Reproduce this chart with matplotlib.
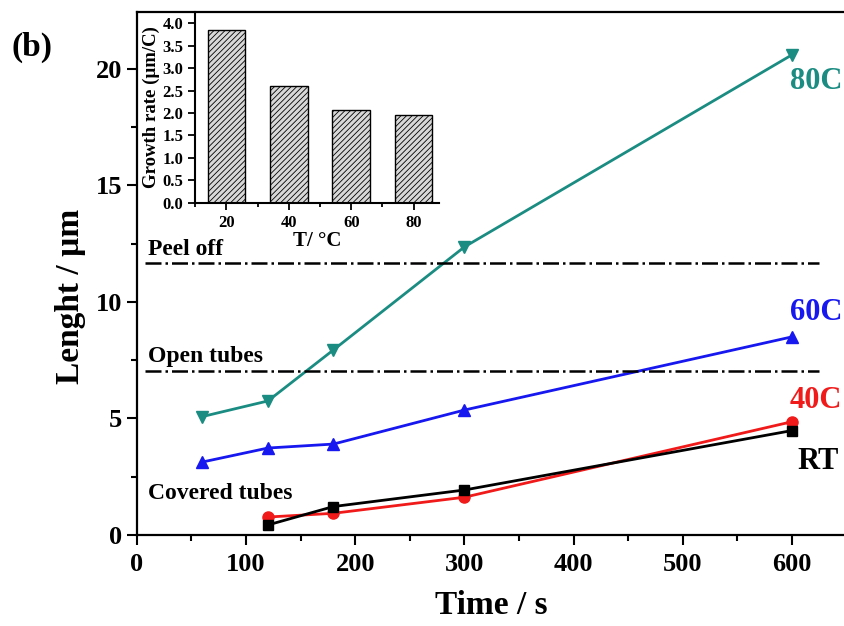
import matplotlib
matplotlib.use("Agg")
import matplotlib.pyplot as plt
from matplotlib.ticker import MultipleLocator

plt.rcParams['font.family'] = ['Liberation Serif', 'DejaVu Serif']
plt.rcParams['font.weight'] = 'bold'
plt.rcParams['hatch.color'] = '#9a9a9a'
plt.rcParams['hatch.linewidth'] = 0.6

# Data
t_rt = [120, 180, 300, 600]
len_rt = [0.43, 1.22, 1.93, 4.48]
t_40 = [120, 180, 300, 600]
len_40 = [0.77, 0.93, 1.62, 4.86]
t_60 = [60, 120, 180, 300, 600]
len_60 = [3.13, 3.73, 3.9, 5.36, 8.5]
t_80 = [60, 120, 180, 300, 600]
len_80 = [5.08, 5.75, 7.94, 12.36, 20.6]
peel_off = 11.67
open_tubes = 7.04

inset_T = [20, 40, 60, 80]
inset_rate = [3.85, 2.61, 2.06, 1.96]

teal = '#1a8c82'
blue = '#1717f0'
red = '#f01a1a'

fig = plt.figure(figsize=(8.45, 6.26), dpi=100)
ax = fig.add_axes([0.162, 0.1454, 0.84, 0.836])

ax.plot(t_80, len_80, color=teal, marker='v', ms=9, lw=2)
ax.plot(t_60, len_60, color=blue, marker='^', ms=9, lw=2)
ax.plot(t_40, len_40, color=red, marker='o', ms=8, lw=2)
ax.plot(t_rt, len_rt, color='black', marker='s', ms=7, lw=2)

ax.plot([7, 625], [peel_off, peel_off], color='black', ls='-.', lw=1.8)
ax.plot([7, 625], [open_tubes, open_tubes], color='black', ls='-.', lw=1.8)

ax.set_xlim(0, 650)
ax.set_ylim(0, 22.45)
ax.xaxis.set_major_locator(MultipleLocator(100))
ax.xaxis.set_minor_locator(MultipleLocator(50))
ax.yaxis.set_major_locator(MultipleLocator(5))
ax.yaxis.set_minor_locator(MultipleLocator(2.5))
ax.tick_params(which='major', direction='out', length=7, width=1.5, labelsize=19)
ax.tick_params(axis='x', which='major', pad=6)
ax.tick_params(which='minor', direction='out', length=4, width=1.5)
ax.spines['right'].set_visible(False)
for s in ['left', 'bottom', 'top']:
    ax.spines[s].set_linewidth(1.6)
ax.tick_params(top=False, right=False)

ax.set_xlabel('Time / s', fontsize=24, fontweight='bold', labelpad=10)
ax.set_ylabel('Lenght / µm', fontsize=24, fontweight='bold')
ax.yaxis.set_label_coords(-0.072, 0.455)

ax.text(598, 19.45, '80C', color=teal, fontsize=22, fontweight='bold', va='center')
ax.text(598, 9.55, '60C', color=blue, fontsize=22, fontweight='bold', va='center')
ax.text(598, 5.75, '40C', color=red, fontsize=22, fontweight='bold', va='center')
ax.text(605, 3.15, 'RT', color='black', fontsize=22, fontweight='bold', va='center')
ax.text(10, 12.25, 'Peel off', fontsize=17, fontweight='bold', va='center')
ax.text(10, 7.65, 'Open tubes', fontsize=17, fontweight='bold', va='center')
ax.text(10, 1.8, 'Covered tubes', fontsize=17, fontweight='bold', va='center')

fig.text(0.014, 0.924, '(b)', fontsize=24, fontweight='bold', va='center')

# Inset
ins = fig.add_axes([0.231, 0.676, 0.288, 0.305])
ins.bar(inset_T, inset_rate, width=12, color='#d8d8d8', edgecolor='black', linewidth=1.0, hatch='//////')
ins.set_xlim(10, 88)
ins.set_ylim(0, 4.25)
ins.set_xticks(inset_T)
ins.xaxis.set_minor_locator(MultipleLocator(10))
ins.yaxis.set_major_locator(MultipleLocator(0.5))
ins.tick_params(which='major', direction='out', length=5, width=1.3, labelsize=12)
ins.tick_params(which='minor', direction='out', length=3, width=1.3)
ins.spines['right'].set_visible(False)
ins.spines['top'].set_visible(False)
ins.spines['left'].set_linewidth(1.5)
ins.spines['bottom'].set_linewidth(1.5)
ins.set_xlabel('T/ °C', fontsize=15, fontweight='bold', labelpad=0)
ins.set_ylabel('Growth rate (µm/C)', fontsize=13.5, fontweight='bold', labelpad=2)
ins.patch.set_alpha(0)

fig.savefig('out.png', dpi=100)
